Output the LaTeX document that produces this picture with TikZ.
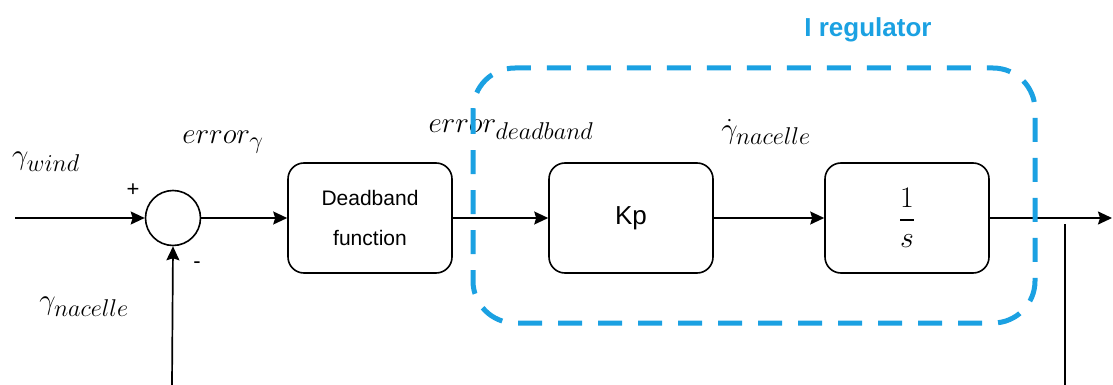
\documentclass[tikz,border=0pt]{standalone}
\usepackage{amsmath}
\usepackage{fontspec}
\newfontfamily\arialf{Liberation Sans}
\usetikzlibrary{positioning,arrows.meta}
\definecolor{regblue}{HTML}{1BA1E2}
\renewcommand\defaultscriptratio{.78}
\newcommand{\sig}[1]{\scalebox{1.17}{$#1$}}
\tikzset{
  blk/.style={draw=black,rounded corners=16pt,line width=1.6pt,minimum width=164pt,minimum height=110pt,align=center,font=\arialf\fontsize{21}{40}\selectfont,inner sep=0pt},
  sumc/.style={circle,draw=black,line width=1.6pt,minimum size=55pt,inner sep=0pt},
  arr/.style={-{Stealth[length=14pt,width=13pt,inset=2pt]},line width=1.7pt},
  ln/.style={line width=1.7pt},
  lab/.style={font=\fontsize{24.88}{30}\selectfont,inner sep=0pt},
  sgn/.style={font=\arialf\fontsize{22}{24}\selectfont,inner sep=0pt},
  grp/.style={draw=regblue,line width=5pt,dash pattern=on 24pt off 16pt,rounded corners=42pt},
}
\begin{document}
\begin{tikzpicture}[x=1pt,y=-1pt]
\useasboundingbox (0,0) rectangle (1113,385);
% blocks
\node[sumc] (sum) at (173,218) {};
\node[blk] (db) at (370,218) {Deadband\\function};
\node[blk,font=\arialf\fontsize{26}{30}\selectfont] (kp) at (631,218) {Kp};
\node[blk,font=\fontsize{24.88}{30}\selectfont] (int) at (907,218) {\scalebox{1.2}{$\dfrac{1}{\rule{0pt}{15pt}s}$}};
% free ends
\coordinate (in) at (15,218);
\coordinate (out) at (1112,218);
\coordinate (fbtop) at (1065,224);
\coordinate (fbbot) at (1065,385);
\coordinate (fbin) at (172,385);
% connectors
\draw[arr] (in) -- (sum.west);
\draw[arr] (sum.east) -- (db.west);
\draw[arr] (db.east) -- (kp.west);
\draw[arr] (kp.east) -- (int.west);
\draw[arr] (int.east) -- (out);
\draw[ln] (fbtop) -- (fbbot);
\draw[arr] (fbin) -- (sum.south);
% signal labels
\node[lab] (lwind) at (46,162) {\sig{\gamma_{wind}}};
\node[lab] (lnac) at (84,307) {\sig{\gamma_{nacelle}}};
\node[lab] (lerr) at (223,142) {\sig{error_{\gamma}}};
\node[lab] (lerrdb) at (511,130) {\sig{error_{deadband}}};
\node[lab] (ldot) at (766,132) {\sig{\dot{\gamma}_{nacelle}}};
\node[sgn] (plus) at (133,190) {+};
\node[sgn] (minus) at (197,265) {-};
% regulator frame
\draw[grp] (473,68) rectangle (1035,323);
\node[font=\arialf\bfseries\fontsize{26}{30}\selectfont,text=regblue] (regt) at (868,30) {I regulator};
\end{tikzpicture}
\end{document}
